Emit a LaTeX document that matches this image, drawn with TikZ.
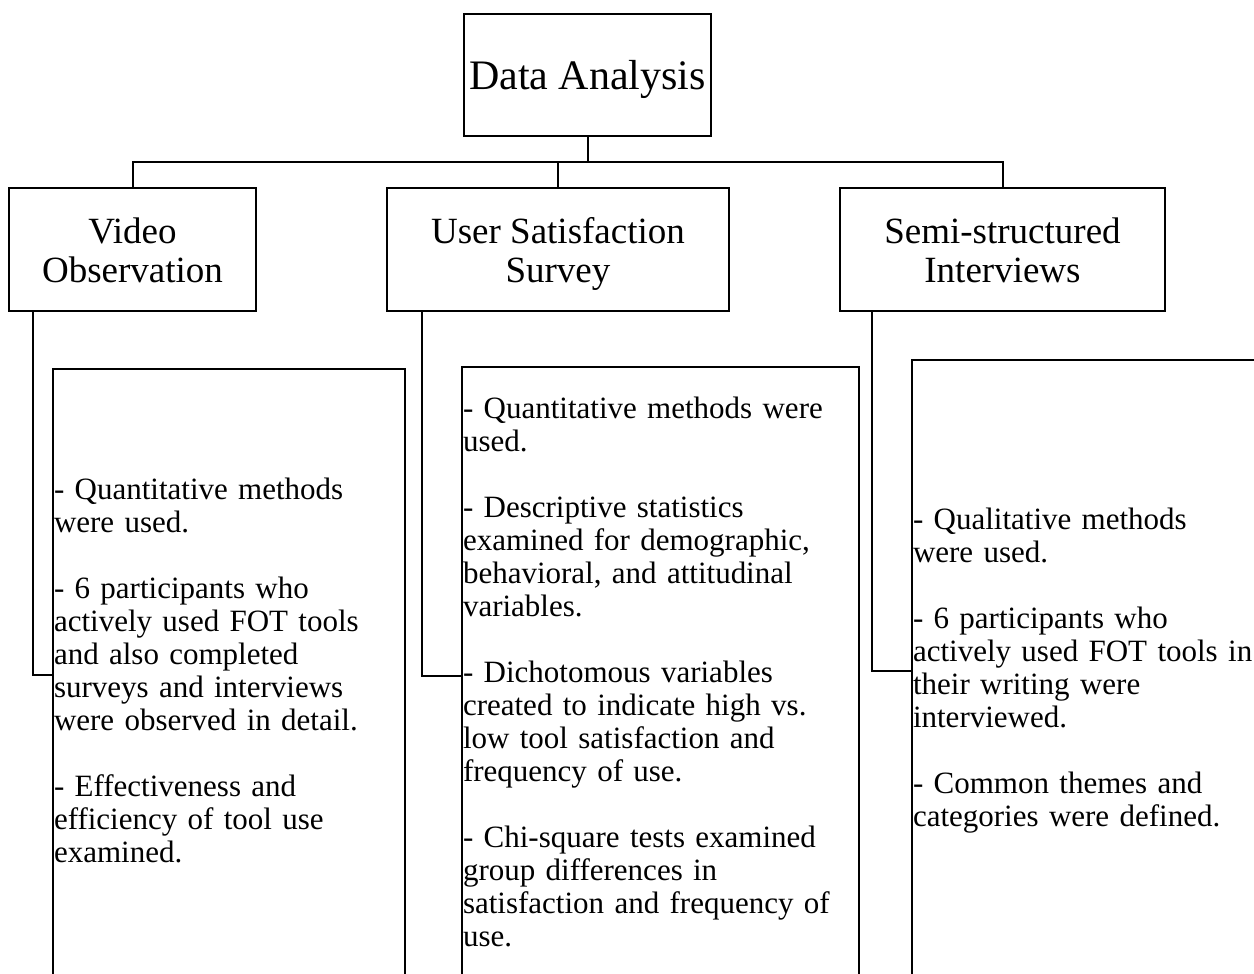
\documentclass[tikz,border=0pt]{standalone}
\usepackage{fontspec}
\setmainfont{Liberation Serif}
\setlength{\parindent}{0pt}
\newcommand{\nodepth}[1]{\raisebox{0pt}[\height][0pt]{#1}}
\tikzset{
  box/.style={draw, line width=2pt, inner sep=0pt, align=center},
  topbox/.style={box, font=\fontsize{42}{50}\selectfont, minimum width=247pt, minimum height=122pt},
  midbox/.style={box, font=\fontsize{37}{38.5}\selectfont, minimum height=123pt},
  detail/.style={draw, line width=2pt, anchor=north west, inner xsep=1pt, inner ysep=0pt,
    align=left, font=\fontsize{31}{33}\selectfont},
  conn/.style={line width=2pt}
}
\begin{document}
\begin{tikzpicture}[x=1pt,y=-1pt]
\useasboundingbox (0,0) rectangle (1254,974);
\fill[white] (0,0) rectangle (1254,974);
\clip (0,0) rectangle (1254,974);

\node[topbox] (top) at (587.5,75) {\nodepth{Data Analysis}};

\node[midbox, minimum width=247pt] (v1) at (132.5,249.5) {\strut Video\\\nodepth{Observation}};
\node[midbox, minimum width=342pt] (v2) at (558,249.5) {\strut User Satisfaction\\\nodepth{Survey}};
\node[midbox, minimum width=325pt] (v3) at (1002.5,249.5) {\strut Semi-structured\\\nodepth{Interviews}};

\node[detail, text width=350pt, minimum height=611pt] (d1) at (52,368) {%
\strut- Quantitative methods\\
were used.\\[33pt]
- 6 participants who\\
actively used FOT tools\\
and also completed\\
surveys and interviews\\
were observed in detail.\\[33pt]
- Effectiveness and\\
efficiency of tool use\\
examined.\strut};

\node[detail, text width=395pt, minimum height=618pt] (d2) at (461,366) {%
\strut- Quantitative methods were\\
used.\\[33pt]
- Descriptive statistics\\
examined for demographic,\\
behavioral, and attitudinal\\
variables.\\[33pt]
- Dichotomous variables\\
created to indicate high vs.\\
low tool satisfaction and\\
frequency of use.\\[33pt]
- Chi-square tests examined\\
group differences in\\
satisfaction and frequency of\\
use.\strut};

\node[detail, text width=358pt, minimum height=622pt] (d3) at (911,359) {%
\strut- Qualitative methods\\
were used.\\[33pt]
- 6 participants who\\
actively used FOT tools in\\
their writing were\\
interviewed.\\[33pt]
- Common themes and\\
categories were defined.\strut};

\coordinate (bus) at (587.5,162);
\draw[conn] (top.south) -- (bus);
\draw[conn] (bus) -| (v1.north);
\draw[conn] (bus) -| (v2.north);
\draw[conn] (bus) -| (v3.north);

\draw[conn] ([xshift=25pt]v1.south west) |- (d1.west);
\draw[conn] ([xshift=35.5pt]v2.south west) |- (d2.west);
\draw[conn] ([xshift=33pt]v3.south west) |- (d3.west);
\end{tikzpicture}
\end{document}
